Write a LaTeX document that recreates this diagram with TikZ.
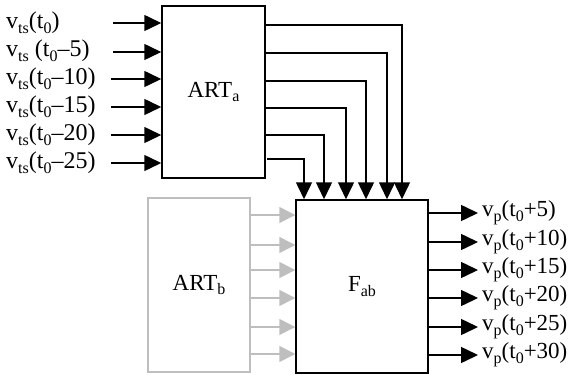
\documentclass[tikz,border=0pt]{standalone}
\usepackage{fontspec}
\setmainfont{Liberation Serif}
\usetikzlibrary{arrows.meta}
\definecolor{lg}{RGB}{190,190,190}
\newcommand{\sbs}[1]{\raisebox{-0.2em}{\fontsize{16}{16}\selectfont #1}}
\begin{document}
\begin{tikzpicture}[x=1pt,y=-1pt,
  every node/.style={inner sep=0pt},
  lbl/.style={font=\fontsize{24}{26}\selectfont, anchor=west},
  olbl/.style={font=\fontsize{23}{26}\selectfont, anchor=west},
  boxtxt/.style={font=\fontsize{23}{26}\selectfont},
  box/.style={draw, line width=1.5pt, minimum width=#1},
  arr/.style={line width=1.5pt, -{Triangle[length=17pt,width=16pt]}},
  garr/.style={line width=1.5pt, draw=lg, -{Triangle[length=16pt,width=16pt]}}]
\useasboundingbox (0,0) rectangle (569,374);
\node[box=103pt, minimum height=172pt, boxtxt] (ARTa) at (213.5,92) {ART\sbs{a}};
\node[box=132pt, minimum height=173pt, boxtxt] (Fab) at (362,286.5) {F\sbs{ab}};
\node[box=102pt, minimum height=174pt, draw=lg, boxtxt] (ARTb) at (199,285) {ART\sbs{b}};
% input labels
\node[lbl] (in1) at (6,23) {v\sbs{ts}(t\sbs{0})};
\node[lbl] (in2) at (6,51) {v\sbs{ts} (t\sbs{0}–5)};
\node[lbl] (in3) at (6,79) {v\sbs{ts}(t\sbs{0}–10)};
\node[lbl] (in4) at (6,107) {v\sbs{ts}(t\sbs{0}–15)};
\node[lbl] (in5) at (6,135) {v\sbs{ts}(t\sbs{0}–20)};
\node[lbl] (in6) at (6,163) {v\sbs{ts}(t\sbs{0}–25)};
\foreach \y/\x [count=\i] in {23/113,52/113,79/111,107/111,135/111,163/111}{
  \coordinate (s\i) at (\x,\y);
  \draw[arr] (s\i) -- (s\i -| ARTa.west);
}
% ARTa to Fab
\foreach \y/\x in {25/402,53/387,81/366,108/346,135/324}{
  \draw[arr] (ARTa.east |- 0,\y) -| (\x,0 |- Fab.north);
}
\coordinate (c6) at (267,159);
\draw[arr] (c6) -| (304,0 |- Fab.north);
% ARTb to Fab
\foreach \y in {215,245,270,298,327,354}{
  \draw[garr] (ARTb.east |- 0,\y) -- (Fab.west |- 0,\y);
}
% outputs
\foreach \y/\t [count=\i] in {213/5,242/10,270/15,298/20,327/25,355/30}{
  \node[olbl] (out\i) at (482,\y) {v\sbs{p}(t\sbs{0}+\t)};
  \draw[arr] (Fab.east |- 0,\y) -- ([xshift=-4pt]out\i.west);
}
\end{tikzpicture}
\end{document}
